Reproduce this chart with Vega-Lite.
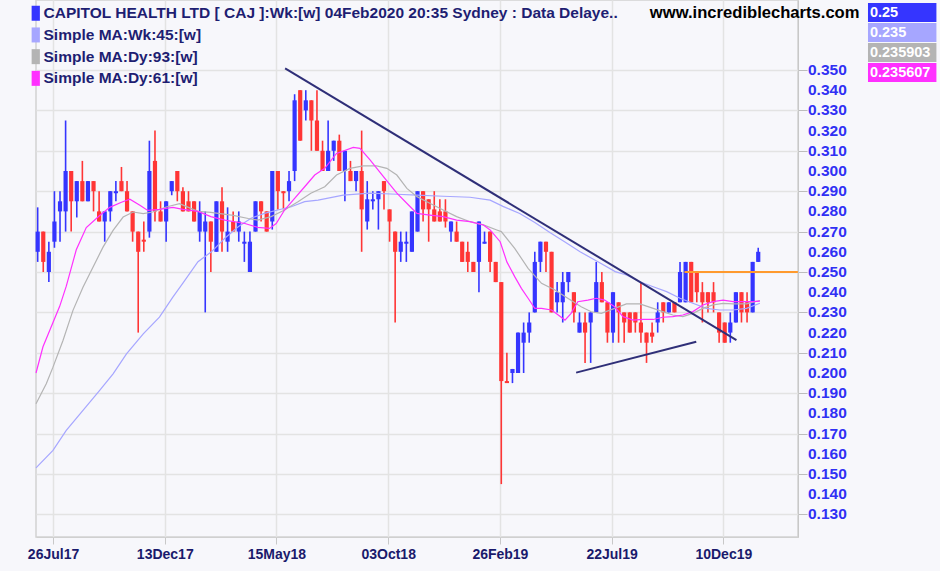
{
  "$schema": "https://vega.github.io/schema/vega-lite/v6.json",
  "width": 762,
  "height": 537,
  "autosize": {"type": "none"},
  "padding": {"left": 36, "top": 0, "right": 142, "bottom": 34},
  "background": "#f7f7fb",
  "config": {"view": {"stroke": "#d2d2d2", "strokeWidth": 1.5, "fill": "#f7f7fb"}, "font": "Liberation Sans"},
  "datasets": {
    "candles": [
      {"i":0,"o":0.260,"h":0.282,"l":0.255,"c":0.270},
      {"i":1,"o":0.270,"h":0.270,"l":0.250,"c":0.255},
      {"i":2,"o":0.250,"h":0.265,"l":0.245,"c":0.260},
      {"i":3,"o":0.265,"h":0.290,"l":0.262,"c":0.275},
      {"i":4,"o":0.280,"h":0.290,"l":0.265,"c":0.285},
      {"i":5,"o":0.280,"h":0.325,"l":0.270,"c":0.300},
      {"i":6,"o":0.300,"h":0.300,"l":0.270,"c":0.285},
      {"i":7,"o":0.285,"h":0.295,"l":0.277,"c":0.295},
      {"i":8,"o":0.295,"h":0.305,"l":0.285,"c":0.285},
      {"i":9,"o":0.285,"h":0.295,"l":0.285,"c":0.295},
      {"i":10,"o":0.295,"h":0.295,"l":0.280,"c":0.290},
      {"i":11,"o":0.280,"h":0.290,"l":0.275,"c":0.275},
      {"i":12,"o":0.275,"h":0.280,"l":0.265,"c":0.280},
      {"i":13,"o":0.280,"h":0.290,"l":0.275,"c":0.290},
      {"i":14,"o":0.289,"h":0.295,"l":0.285,"c":0.290},
      {"i":15,"o":0.295,"h":0.302,"l":0.290,"c":0.290},
      {"i":16,"o":0.290,"h":0.295,"l":0.280,"c":0.280},
      {"i":17,"o":0.280,"h":0.280,"l":0.265,"c":0.270},
      {"i":18,"o":0.270,"h":0.270,"l":0.220,"c":0.260},
      {"i":19,"o":0.266,"h":0.275,"l":0.260,"c":0.265},
      {"i":20,"o":0.270,"h":0.315,"l":0.267,"c":0.300},
      {"i":21,"o":0.305,"h":0.320,"l":0.275,"c":0.280},
      {"i":22,"o":0.280,"h":0.285,"l":0.275,"c":0.275},
      {"i":23,"o":0.275,"h":0.285,"l":0.265,"c":0.285},
      {"i":24,"o":0.290,"h":0.295,"l":0.288,"c":0.295},
      {"i":25,"o":0.300,"h":0.300,"l":0.285,"c":0.290},
      {"i":26,"o":0.290,"h":0.292,"l":0.280,"c":0.280},
      {"i":27,"o":0.285,"h":0.290,"l":0.280,"c":0.280},
      {"i":28,"o":0.285,"h":0.285,"l":0.275,"c":0.275},
      {"i":29,"o":0.270,"h":0.285,"l":0.265,"c":0.280},
      {"i":30,"o":0.270,"h":0.280,"l":0.230,"c":0.275},
      {"i":31,"o":0.275,"h":0.275,"l":0.250,"c":0.265},
      {"i":32,"o":0.260,"h":0.285,"l":0.260,"c":0.285},
      {"i":33,"o":0.285,"h":0.292,"l":0.260,"c":0.270},
      {"i":34,"o":0.265,"h":0.282,"l":0.260,"c":0.270},
      {"i":35,"o":0.275,"h":0.280,"l":0.270,"c":0.270},
      {"i":36,"o":0.270,"h":0.280,"l":0.265,"c":0.275},
      {"i":37,"o":0.264,"h":0.270,"l":0.255,"c":0.265},
      {"i":38,"o":0.250,"h":0.270,"l":0.250,"c":0.265},
      {"i":39,"o":0.270,"h":0.285,"l":0.270,"c":0.285},
      {"i":40,"o":0.285,"h":0.285,"l":0.275,"c":0.280},
      {"i":41,"o":0.280,"h":0.280,"l":0.270,"c":0.270},
      {"i":42,"o":0.275,"h":0.300,"l":0.271,"c":0.300},
      {"i":43,"o":0.300,"h":0.300,"l":0.281,"c":0.290},
      {"i":44,"o":0.290,"h":0.290,"l":0.281,"c":0.289},
      {"i":45,"o":0.290,"h":0.300,"l":0.285,"c":0.295},
      {"i":46,"o":0.300,"h":0.338,"l":0.295,"c":0.335},
      {"i":47,"o":0.340,"h":0.340,"l":0.315,"c":0.315},
      {"i":48,"o":0.330,"h":0.340,"l":0.325,"c":0.335},
      {"i":49,"o":0.335,"h":0.335,"l":0.310,"c":0.325},
      {"i":50,"o":0.325,"h":0.340,"l":0.310,"c":0.310},
      {"i":51,"o":0.310,"h":0.315,"l":0.300,"c":0.300},
      {"i":52,"o":0.300,"h":0.325,"l":0.300,"c":0.310},
      {"i":53,"o":0.310,"h":0.315,"l":0.305,"c":0.315},
      {"i":54,"o":0.315,"h":0.318,"l":0.300,"c":0.300},
      {"i":55,"o":0.300,"h":0.310,"l":0.285,"c":0.310},
      {"i":56,"o":0.300,"h":0.305,"l":0.295,"c":0.295},
      {"i":57,"o":0.295,"h":0.300,"l":0.290,"c":0.300},
      {"i":58,"o":0.300,"h":0.320,"l":0.260,"c":0.281},
      {"i":59,"o":0.275,"h":0.295,"l":0.271,"c":0.286},
      {"i":60,"o":0.285,"h":0.290,"l":0.281,"c":0.286},
      {"i":61,"o":0.286,"h":0.290,"l":0.271,"c":0.290},
      {"i":62,"o":0.295,"h":0.295,"l":0.281,"c":0.290},
      {"i":63,"o":0.281,"h":0.281,"l":0.265,"c":0.275},
      {"i":64,"o":0.270,"h":0.270,"l":0.225,"c":0.260},
      {"i":65,"o":0.260,"h":0.270,"l":0.255,"c":0.265},
      {"i":66,"o":0.264,"h":0.270,"l":0.255,"c":0.265},
      {"i":67,"o":0.260,"h":0.280,"l":0.260,"c":0.280},
      {"i":68,"o":0.270,"h":0.290,"l":0.270,"c":0.290},
      {"i":69,"o":0.290,"h":0.290,"l":0.275,"c":0.281},
      {"i":70,"o":0.286,"h":0.286,"l":0.265,"c":0.281},
      {"i":71,"o":0.281,"h":0.290,"l":0.275,"c":0.275},
      {"i":72,"o":0.280,"h":0.286,"l":0.275,"c":0.275},
      {"i":73,"o":0.280,"h":0.286,"l":0.272,"c":0.275},
      {"i":74,"o":0.270,"h":0.275,"l":0.265,"c":0.275},
      {"i":75,"o":0.270,"h":0.275,"l":0.265,"c":0.265},
      {"i":76,"o":0.265,"h":0.265,"l":0.255,"c":0.255},
      {"i":77,"o":0.260,"h":0.265,"l":0.250,"c":0.255},
      {"i":78,"o":0.255,"h":0.255,"l":0.250,"c":0.250},
      {"i":79,"o":0.255,"h":0.275,"l":0.240,"c":0.275},
      {"i":80,"o":0.264,"h":0.270,"l":0.264,"c":0.265},
      {"i":81,"o":0.270,"h":0.270,"l":0.250,"c":0.255},
      {"i":82,"o":0.255,"h":0.255,"l":0.245,"c":0.245},
      {"i":83,"o":0.245,"h":0.245,"l":0.145,"c":0.196},
      {"i":84,"o":0.196,"h":0.210,"l":0.195,"c":0.195},
      {"i":85,"o":0.200,"h":0.202,"l":0.195,"c":0.202},
      {"i":86,"o":0.200,"h":0.220,"l":0.200,"c":0.220},
      {"i":87,"o":0.215,"h":0.225,"l":0.200,"c":0.220},
      {"i":88,"o":0.220,"h":0.230,"l":0.215,"c":0.225},
      {"i":89,"o":0.230,"h":0.260,"l":0.230,"c":0.255},
      {"i":90,"o":0.255,"h":0.265,"l":0.250,"c":0.265},
      {"i":91,"o":0.265,"h":0.265,"l":0.250,"c":0.260},
      {"i":92,"o":0.260,"h":0.260,"l":0.230,"c":0.230},
      {"i":93,"o":0.235,"h":0.245,"l":0.230,"c":0.240},
      {"i":94,"o":0.235,"h":0.250,"l":0.225,"c":0.245},
      {"i":95,"o":0.245,"h":0.250,"l":0.240,"c":0.250},
      {"i":96,"o":0.240,"h":0.240,"l":0.225,"c":0.230},
      {"i":97,"o":0.220,"h":0.230,"l":0.220,"c":0.225},
      {"i":98,"o":0.225,"h":0.230,"l":0.205,"c":0.220},
      {"i":99,"o":0.225,"h":0.230,"l":0.205,"c":0.230},
      {"i":100,"o":0.230,"h":0.255,"l":0.230,"c":0.245},
      {"i":101,"o":0.245,"h":0.250,"l":0.235,"c":0.235},
      {"i":102,"o":0.235,"h":0.235,"l":0.215,"c":0.220},
      {"i":103,"o":0.220,"h":0.240,"l":0.215,"c":0.240},
      {"i":104,"o":0.235,"h":0.235,"l":0.215,"c":0.230},
      {"i":105,"o":0.230,"h":0.230,"l":0.215,"c":0.225},
      {"i":106,"o":0.230,"h":0.230,"l":0.220,"c":0.220},
      {"i":107,"o":0.230,"h":0.230,"l":0.220,"c":0.225},
      {"i":108,"o":0.225,"h":0.245,"l":0.215,"c":0.220},
      {"i":109,"o":0.220,"h":0.220,"l":0.205,"c":0.215},
      {"i":110,"o":0.220,"h":0.225,"l":0.215,"c":0.218},
      {"i":111,"o":0.225,"h":0.235,"l":0.220,"c":0.230},
      {"i":112,"o":0.235,"h":0.235,"l":0.225,"c":0.230},
      {"i":113,"o":0.230,"h":0.235,"l":0.230,"c":0.235},
      {"i":114,"o":0.235,"h":0.235,"l":0.230,"c":0.230},
      {"i":115,"o":0.235,"h":0.255,"l":0.235,"c":0.250},
      {"i":116,"o":0.235,"h":0.255,"l":0.235,"c":0.255},
      {"i":117,"o":0.255,"h":0.255,"l":0.235,"c":0.235},
      {"i":118,"o":0.250,"h":0.250,"l":0.235,"c":0.240},
      {"i":119,"o":0.240,"h":0.245,"l":0.225,"c":0.235},
      {"i":120,"o":0.240,"h":0.240,"l":0.230,"c":0.235},
      {"i":121,"o":0.240,"h":0.245,"l":0.230,"c":0.235},
      {"i":122,"o":0.230,"h":0.230,"l":0.215,"c":0.220},
      {"i":123,"o":0.225,"h":0.225,"l":0.215,"c":0.215},
      {"i":124,"o":0.220,"h":0.230,"l":0.215,"c":0.225},
      {"i":125,"o":0.225,"h":0.240,"l":0.225,"c":0.240},
      {"i":126,"o":0.240,"h":0.240,"l":0.225,"c":0.230},
      {"i":127,"o":0.235,"h":0.240,"l":0.225,"c":0.230},
      {"i":128,"o":0.230,"h":0.255,"l":0.230,"c":0.255},
      {"i":129,"o":0.255,"h":0.262,"l":0.255,"c":0.260}
    ],
    "ma": [
      {"s":"Simple MA:Wk:45:[w]","x":-0.3,"v":0.153},{"s":"Simple MA:Wk:45:[w]","x":2.74,"v":0.1617},{"s":"Simple MA:Wk:45:[w]","x":5.12,"v":0.1716},{"s":"Simple MA:Wk:45:[w]","x":8.11,"v":0.1815},{"s":"Simple MA:Wk:45:[w]","x":11.1,"v":0.1914},{"s":"Simple MA:Wk:45:[w]","x":13.5,"v":0.1996},{"s":"Simple MA:Wk:45:[w]","x":15.9,"v":0.2095},{"s":"Simple MA:Wk:45:[w]","x":18.9,"v":0.2194},{"s":"Simple MA:Wk:45:[w]","x":21.8,"v":0.2277},{"s":"Simple MA:Wk:45:[w]","x":24.2,"v":0.2376},{"s":"Simple MA:Wk:45:[w]","x":26.0,"v":0.2445},{"s":"Simple MA:Wk:45:[w]","x":28.7,"v":0.2551},{"s":"Simple MA:Wk:45:[w]","x":31.1,"v":0.26},{"s":"Simple MA:Wk:45:[w]","x":33.5,"v":0.2667},{"s":"Simple MA:Wk:45:[w]","x":35.9,"v":0.2724},{"s":"Simple MA:Wk:45:[w]","x":38.2,"v":0.2766},{"s":"Simple MA:Wk:45:[w]","x":40.6,"v":0.279},{"s":"Simple MA:Wk:45:[w]","x":43.0,"v":0.2807},{"s":"Simple MA:Wk:45:[w]","x":45.4,"v":0.2823},{"s":"Simple MA:Wk:45:[w]","x":47.8,"v":0.2848},{"s":"Simple MA:Wk:45:[w]","x":50.2,"v":0.2856},{"s":"Simple MA:Wk:45:[w]","x":54.7,"v":0.2881},{"s":"Simple MA:Wk:45:[w]","x":59.5,"v":0.289},{"s":"Simple MA:Wk:45:[w]","x":64.3,"v":0.2885},{"s":"Simple MA:Wk:45:[w]","x":67.9,"v":0.2881},{"s":"Simple MA:Wk:45:[w]","x":72.6,"v":0.2875},{"s":"Simple MA:Wk:45:[w]","x":77.4,"v":0.287},{"s":"Simple MA:Wk:45:[w]","x":81.0,"v":0.2856},{"s":"Simple MA:Wk:45:[w]","x":83.3,"v":0.2825},{"s":"Simple MA:Wk:45:[w]","x":86.3,"v":0.279},{"s":"Simple MA:Wk:45:[w]","x":89.0,"v":0.2745},{"s":"Simple MA:Wk:45:[w]","x":91.7,"v":0.2695},{"s":"Simple MA:Wk:45:[w]","x":94.4,"v":0.2648},{"s":"Simple MA:Wk:45:[w]","x":97.1,"v":0.26},{"s":"Simple MA:Wk:45:[w]","x":100.7,"v":0.2545},{"s":"Simple MA:Wk:45:[w]","x":103.4,"v":0.2502},{"s":"Simple MA:Wk:45:[w]","x":105.4,"v":0.2485},{"s":"Simple MA:Wk:45:[w]","x":107.8,"v":0.2452},{"s":"Simple MA:Wk:45:[w]","x":110.2,"v":0.2427},{"s":"Simple MA:Wk:45:[w]","x":112.6,"v":0.2403},{"s":"Simple MA:Wk:45:[w]","x":115.0,"v":0.237},{"s":"Simple MA:Wk:45:[w]","x":117.3,"v":0.2345},{"s":"Simple MA:Wk:45:[w]","x":119.7,"v":0.232},{"s":"Simple MA:Wk:45:[w]","x":122.1,"v":0.2312},{"s":"Simple MA:Wk:45:[w]","x":124.5,"v":0.2312},{"s":"Simple MA:Wk:45:[w]","x":126.9,"v":0.232},{"s":"Simple MA:Wk:45:[w]","x":129.3,"v":0.2345},
      {"s":"Simple MA:Dy:93:[w]","x":-0.3,"v":0.1848},{"s":"Simple MA:Dy:93:[w]","x":1.54,"v":0.1947},{"s":"Simple MA:Dy:93:[w]","x":2.74,"v":0.2029},{"s":"Simple MA:Dy:93:[w]","x":4.53,"v":0.2161},{"s":"Simple MA:Dy:93:[w]","x":6.32,"v":0.231},{"s":"Simple MA:Dy:93:[w]","x":8.11,"v":0.2425},{"s":"Simple MA:Dy:93:[w]","x":9.9,"v":0.2524},{"s":"Simple MA:Dy:93:[w]","x":11.7,"v":0.2623},{"s":"Simple MA:Dy:93:[w]","x":13.5,"v":0.2706},{"s":"Simple MA:Dy:93:[w]","x":15.3,"v":0.2772},{"s":"Simple MA:Dy:93:[w]","x":17.1,"v":0.2797},{"s":"Simple MA:Dy:93:[w]","x":18.9,"v":0.2789},{"s":"Simple MA:Dy:93:[w]","x":20.6,"v":0.2797},{"s":"Simple MA:Dy:93:[w]","x":23.0,"v":0.2822},{"s":"Simple MA:Dy:93:[w]","x":25.4,"v":0.2838},{"s":"Simple MA:Dy:93:[w]","x":28.7,"v":0.28},{"s":"Simple MA:Dy:93:[w]","x":31.0,"v":0.2795},{"s":"Simple MA:Dy:93:[w]","x":35.0,"v":0.278},{"s":"Simple MA:Dy:93:[w]","x":37.7,"v":0.2765},{"s":"Simple MA:Dy:93:[w]","x":39.4,"v":0.2757},{"s":"Simple MA:Dy:93:[w]","x":41.8,"v":0.2774},{"s":"Simple MA:Dy:93:[w]","x":44.2,"v":0.2807},{"s":"Simple MA:Dy:93:[w]","x":46.6,"v":0.2848},{"s":"Simple MA:Dy:93:[w]","x":48.9,"v":0.289},{"s":"Simple MA:Dy:93:[w]","x":51.4,"v":0.2922},{"s":"Simple MA:Dy:93:[w]","x":53.5,"v":0.298},{"s":"Simple MA:Dy:93:[w]","x":55.9,"v":0.3013},{"s":"Simple MA:Dy:93:[w]","x":58.3,"v":0.3025},{"s":"Simple MA:Dy:93:[w]","x":60.7,"v":0.3025},{"s":"Simple MA:Dy:93:[w]","x":62.5,"v":0.3013},{"s":"Simple MA:Dy:93:[w]","x":64.3,"v":0.298},{"s":"Simple MA:Dy:93:[w]","x":66.1,"v":0.2914},{"s":"Simple MA:Dy:93:[w]","x":67.9,"v":0.2873},{"s":"Simple MA:Dy:93:[w]","x":70.2,"v":0.284},{"s":"Simple MA:Dy:93:[w]","x":72.6,"v":0.2807},{"s":"Simple MA:Dy:93:[w]","x":75.0,"v":0.2774},{"s":"Simple MA:Dy:93:[w]","x":77.4,"v":0.2749},{"s":"Simple MA:Dy:93:[w]","x":79.8,"v":0.2733},{"s":"Simple MA:Dy:93:[w]","x":82.2,"v":0.2708},{"s":"Simple MA:Dy:93:[w]","x":83.0,"v":0.27},{"s":"Simple MA:Dy:93:[w]","x":85.4,"v":0.2617},{"s":"Simple MA:Dy:93:[w]","x":87.8,"v":0.2518},{"s":"Simple MA:Dy:93:[w]","x":90.2,"v":0.2444},{"s":"Simple MA:Dy:93:[w]","x":92.6,"v":0.2411},{"s":"Simple MA:Dy:93:[w]","x":94.9,"v":0.237},{"s":"Simple MA:Dy:93:[w]","x":97.3,"v":0.2328},{"s":"Simple MA:Dy:93:[w]","x":99.1,"v":0.2303},{"s":"Simple MA:Dy:93:[w]","x":100.9,"v":0.2295},{"s":"Simple MA:Dy:93:[w]","x":103.3,"v":0.232},{"s":"Simple MA:Dy:93:[w]","x":105.4,"v":0.2342},{"s":"Simple MA:Dy:93:[w]","x":107.8,"v":0.2342},{"s":"Simple MA:Dy:93:[w]","x":110.2,"v":0.232},{"s":"Simple MA:Dy:93:[w]","x":111.9,"v":0.2304},{"s":"Simple MA:Dy:93:[w]","x":113.7,"v":0.2287},{"s":"Simple MA:Dy:93:[w]","x":115.5,"v":0.2279},{"s":"Simple MA:Dy:93:[w]","x":117.3,"v":0.2295},{"s":"Simple MA:Dy:93:[w]","x":119.1,"v":0.232},{"s":"Simple MA:Dy:93:[w]","x":120.9,"v":0.2337},{"s":"Simple MA:Dy:93:[w]","x":122.7,"v":0.2345},{"s":"Simple MA:Dy:93:[w]","x":124.5,"v":0.2342},{"s":"Simple MA:Dy:93:[w]","x":126.9,"v":0.2342},{"s":"Simple MA:Dy:93:[w]","x":129.3,"v":0.2359},
      {"s":"Simple MA:Dy:61:[w]","x":-0.3,"v":0.2},{"s":"Simple MA:Dy:61:[w]","x":0.95,"v":0.213},{"s":"Simple MA:Dy:61:[w]","x":2.15,"v":0.221},{"s":"Simple MA:Dy:61:[w]","x":3.94,"v":0.233},{"s":"Simple MA:Dy:61:[w]","x":5.12,"v":0.243},{"s":"Simple MA:Dy:61:[w]","x":6.91,"v":0.261},{"s":"Simple MA:Dy:61:[w]","x":8.7,"v":0.272},{"s":"Simple MA:Dy:61:[w]","x":11.1,"v":0.278},{"s":"Simple MA:Dy:61:[w]","x":12.9,"v":0.282},{"s":"Simple MA:Dy:61:[w]","x":15.0,"v":0.2845},{"s":"Simple MA:Dy:61:[w]","x":16.5,"v":0.286},{"s":"Simple MA:Dy:61:[w]","x":18.3,"v":0.283},{"s":"Simple MA:Dy:61:[w]","x":19.7,"v":0.2805},{"s":"Simple MA:Dy:61:[w]","x":21.8,"v":0.281},{"s":"Simple MA:Dy:61:[w]","x":24.2,"v":0.282},{"s":"Simple MA:Dy:61:[w]","x":26.0,"v":0.281},{"s":"Simple MA:Dy:61:[w]","x":28.7,"v":0.28},{"s":"Simple MA:Dy:61:[w]","x":31.0,"v":0.2774},{"s":"Simple MA:Dy:61:[w]","x":33.5,"v":0.2757},{"s":"Simple MA:Dy:61:[w]","x":37.1,"v":0.274},{"s":"Simple MA:Dy:61:[w]","x":39.4,"v":0.2721},{"s":"Simple MA:Dy:61:[w]","x":41.5,"v":0.2716},{"s":"Simple MA:Dy:61:[w]","x":42.7,"v":0.274},{"s":"Simple MA:Dy:61:[w]","x":44.2,"v":0.2807},{"s":"Simple MA:Dy:61:[w]","x":46.0,"v":0.2865},{"s":"Simple MA:Dy:61:[w]","x":47.8,"v":0.2922},{"s":"Simple MA:Dy:61:[w]","x":49.6,"v":0.298},{"s":"Simple MA:Dy:61:[w]","x":51.4,"v":0.3013},{"s":"Simple MA:Dy:61:[w]","x":53.5,"v":0.3087},{"s":"Simple MA:Dy:61:[w]","x":56.5,"v":0.3117},{"s":"Simple MA:Dy:61:[w]","x":57.7,"v":0.3112},{"s":"Simple MA:Dy:61:[w]","x":59.5,"v":0.3055},{"s":"Simple MA:Dy:61:[w]","x":61.9,"v":0.2972},{"s":"Simple MA:Dy:61:[w]","x":64.3,"v":0.289},{"s":"Simple MA:Dy:61:[w]","x":66.7,"v":0.2823},{"s":"Simple MA:Dy:61:[w]","x":67.9,"v":0.279},{"s":"Simple MA:Dy:61:[w]","x":70.2,"v":0.2782},{"s":"Simple MA:Dy:61:[w]","x":72.6,"v":0.2774},{"s":"Simple MA:Dy:61:[w]","x":75.0,"v":0.2757},{"s":"Simple MA:Dy:61:[w]","x":77.4,"v":0.2749},{"s":"Simple MA:Dy:61:[w]","x":79.8,"v":0.2733},{"s":"Simple MA:Dy:61:[w]","x":81.0,"v":0.2708},{"s":"Simple MA:Dy:61:[w]","x":82.8,"v":0.265},{"s":"Simple MA:Dy:61:[w]","x":84.0,"v":0.255},{"s":"Simple MA:Dy:61:[w]","x":85.4,"v":0.2477},{"s":"Simple MA:Dy:61:[w]","x":86.6,"v":0.2419},{"s":"Simple MA:Dy:61:[w]","x":87.8,"v":0.237},{"s":"Simple MA:Dy:61:[w]","x":89.0,"v":0.232},{"s":"Simple MA:Dy:61:[w]","x":90.2,"v":0.232},{"s":"Simple MA:Dy:61:[w]","x":92.0,"v":0.2312},{"s":"Simple MA:Dy:61:[w]","x":93.2,"v":0.2287},{"s":"Simple MA:Dy:61:[w]","x":94.4,"v":0.2262},{"s":"Simple MA:Dy:61:[w]","x":95.5,"v":0.2295},{"s":"Simple MA:Dy:61:[w]","x":96.7,"v":0.2353},{"s":"Simple MA:Dy:61:[w]","x":98.5,"v":0.2361},{"s":"Simple MA:Dy:61:[w]","x":100.0,"v":0.237},{"s":"Simple MA:Dy:61:[w]","x":101.5,"v":0.2361},{"s":"Simple MA:Dy:61:[w]","x":103.3,"v":0.2328},{"s":"Simple MA:Dy:61:[w]","x":104.8,"v":0.2279},{"s":"Simple MA:Dy:61:[w]","x":106.6,"v":0.2262},{"s":"Simple MA:Dy:61:[w]","x":108.4,"v":0.2265},{"s":"Simple MA:Dy:61:[w]","x":110.2,"v":0.2265},{"s":"Simple MA:Dy:61:[w]","x":111.9,"v":0.2276},{"s":"Simple MA:Dy:61:[w]","x":113.7,"v":0.2279},{"s":"Simple MA:Dy:61:[w]","x":115.5,"v":0.2287},{"s":"Simple MA:Dy:61:[w]","x":117.3,"v":0.2304},{"s":"Simple MA:Dy:61:[w]","x":119.1,"v":0.2337},{"s":"Simple MA:Dy:61:[w]","x":120.9,"v":0.2353},{"s":"Simple MA:Dy:61:[w]","x":122.7,"v":0.2361},{"s":"Simple MA:Dy:61:[w]","x":124.5,"v":0.2353},{"s":"Simple MA:Dy:61:[w]","x":126.3,"v":0.2353},{"s":"Simple MA:Dy:61:[w]","x":128.0,"v":0.2353},{"s":"Simple MA:Dy:61:[w]","x":129.3,"v":0.2356}
    ],
    "trend": [
      {"k":"down","x":44.3,"v":0.3508},{"k":"down","x":125.1,"v":0.2163},
      {"k":"up","x":96.4,"v":0.2002},{"k":"up","x":117.9,"v":0.2155}
    ],
    "level": [
      {"x":115.8,"v":0.25},{"x":136.1,"v":0.25}
    ],
    "yticks": [
      {"v":0.13},{"v":0.14},{"v":0.15},{"v":0.16},{"v":0.17},{"v":0.18},{"v":0.19},{"v":0.20},{"v":0.21},{"v":0.22},{"v":0.23},{"v":0.24},
      {"v":0.25},{"v":0.26},{"v":0.27},{"v":0.28},{"v":0.29},{"v":0.30},{"v":0.31},{"v":0.32},{"v":0.33},{"v":0.34},{"v":0.35}
    ],
    "boxes": [
      {"t":"0.25","s":"CAPITOL HEALTH LTD [ CAJ ]:Wk:[w]  04Feb2020 20:35 Sydney : Data Delaye..","top":0.38317,"bot":0.37376,"mid":0.37846},
      {"t":"0.235","s":"Simple MA:Wk:45:[w]","top":0.37327,"bot":0.36386,"mid":0.36856},
      {"t":"0.235903","s":"Simple MA:Dy:93:[w]","top":0.36337,"bot":0.35396,"mid":0.35866},
      {"t":"0.235607","s":"Simple MA:Dy:61:[w]","top":0.35347,"bot":0.34406,"mid":0.34876}
    ]
  },
  "layer": [
    {
      "data": {"name": "candles"},
      "mark": {"type": "rule", "strokeWidth": 1.6},
      "encoding": {
        "x": {"field": "i", "type": "quantitative", "title": null,
              "scale": {"domain": [-0.3, 136.12], "nice": false, "zero": false},
              "axis": {"values": [2.75, 22.75, 42.75, 62.75, 82.75, 102.75, 122.75],
                       "labelExpr": "['26Jul17','13Dec17','15May18','03Oct18','26Feb19','22Jul19','10Dec19'][round((datum.value - 2.75) / 20)]",
                       "labelFont": "Liberation Sans", "labelFontSize": 14, "labelFontWeight": "bold", "labelColor": "#1a1a6c",
                       "tickColor": "#c8c8c8", "tickSize": 7, "labelPadding": 3, "domainColor": "#d0d0d0",
                       "gridColor": "#e3e3e3", "gridWidth": 1.5, "labelFlush": false, "labelOverlap": false, "title": null}},
        "y": {"field": "l", "type": "quantitative", "title": null,
              "scale": {"domain": [0.118812, 0.384653], "nice": false, "zero": false},
              "axis": {"orient": "right",
                       "values": [0.13,0.14,0.15,0.16,0.17,0.18,0.19,0.2,0.21,0.22,0.23,0.24,0.25,0.26,0.27,0.28,0.29,0.3,0.31,0.32,0.33,0.34,0.35],
                       "labels": false, "tickColor": "#bdbdbd", "tickSize": 9,
                       "domainColor": "#c8c8c8", "gridColor": "#e3e3e3", "gridWidth": 1.5, "title": null}},
        "y2": {"field": "h"},
        "color": {"condition": {"test": "datum.c >= datum.o", "value": "#3535ff"}, "value": "#ff3535"}
      }
    },
    {
      "data": {"name": "candles"},
      "mark": {"type": "rule", "strokeWidth": 4.2},
      "encoding": {
        "x": {"field": "i", "type": "quantitative", "title": null, "scale": {"domain": [-0.3, 136.12], "nice": false, "zero": false}},
        "y": {"field": "o", "type": "quantitative", "title": null, "scale": {"domain": [0.118812, 0.384653], "nice": false, "zero": false}},
        "y2": {"field": "c"},
        "color": {"condition": {"test": "datum.c >= datum.o", "value": "#3535ff"}, "value": "#ff3535"}
      }
    },
    {
      "data": {"name": "ma"},
      "mark": {"type": "line", "strokeWidth": 1.2},
      "encoding": {
        "x": {"field": "x", "type": "quantitative", "title": null, "scale": {"domain": [-0.3, 136.12], "nice": false, "zero": false}},
        "y": {"field": "v", "type": "quantitative", "title": null, "scale": {"domain": [0.118812, 0.384653], "nice": false, "zero": false}},
        "color": {"field": "s", "type": "nominal",
                  "scale": {"domain": ["CAPITOL HEALTH LTD [ CAJ ]:Wk:[w]  04Feb2020 20:35 Sydney : Data Delaye..", "Simple MA:Wk:45:[w]", "Simple MA:Dy:93:[w]", "Simple MA:Dy:61:[w]"],
                            "range": ["#3535ff", "#a6a6ff", "#b4b4b4", "#ff30ff"]},
                  "legend": {"orient": "none", "legendX": -8, "legendY": 5.5, "title": null, "padding": 0, "rowPadding": 4.7,
                             "symbolType": "M-0.55,-1L0.55,-1L0.55,1L-0.55,1Z", "symbolSize": 225, "symbolStrokeWidth": 0,
                             "labelFont": "Liberation Sans", "labelFontSize": 15.5, "labelFontWeight": "bold", "labelColor": "#1e1e72",
                             "labelLimit": 800, "labelOffset": 0,
                             "encode": {"symbols": {"update": {"fill": {"scale": "color", "field": "value"}, "fillOpacity": {"value": 1}, "strokeWidth": {"value": 0}}}}}}
      }
    },
    {
      "data": {"name": "trend"},
      "mark": {"type": "line", "strokeWidth": 2, "color": "#2f2f78"},
      "encoding": {
        "x": {"field": "x", "type": "quantitative", "title": null, "scale": {"domain": [-0.3, 136.12], "nice": false, "zero": false}},
        "y": {"field": "v", "type": "quantitative", "title": null, "scale": {"domain": [0.118812, 0.384653], "nice": false, "zero": false}},
        "detail": {"field": "k"}
      }
    },
    {
      "data": {"name": "level"},
      "mark": {"type": "line", "strokeWidth": 2, "color": "#ff9a2e"},
      "encoding": {
        "x": {"field": "x", "type": "quantitative", "title": null, "scale": {"domain": [-0.3, 136.12], "nice": false, "zero": false}},
        "y": {"field": "v", "type": "quantitative", "title": null, "scale": {"domain": [0.118812, 0.384653], "nice": false, "zero": false}}
      }
    },
    {
      "data": {"name": "yticks"},
      "mark": {"type": "text", "align": "left", "baseline": "middle", "dx": 10, "font": "Liberation Sans", "fontSize": 15.5, "fontWeight": "bold", "color": "#3030f4"},
      "encoding": {
        "text": {"field": "v", "type": "quantitative", "format": ".3f"},
        "x": {"datum": 136.12, "type": "quantitative"},
        "y": {"field": "v", "type": "quantitative", "title": null, "scale": {"domain": [0.118812, 0.384653], "nice": false, "zero": false}}
      }
    },
    {
      "data": {"values": [{"t": "www.incrediblecharts.com"}]},
      "mark": {"type": "text", "align": "left", "baseline": "middle", "font": "Liberation Sans", "fontSize": 16.6, "fontWeight": "bold", "color": "#000000"},
      "encoding": {"text": {"field": "t"}, "x": {"datum": 109.6, "type": "quantitative"}, "y": {"datum": 0.3782, "type": "quantitative"}}
    },
    {
      "data": {"name": "boxes"},
      "mark": {"type": "rect"},
      "encoding": {
        "x": {"datum": 148.65, "type": "quantitative"}, "x2": {"datum": 160.9},
        "y": {"field": "top", "type": "quantitative", "title": null, "scale": {"domain": [0.118812, 0.384653], "nice": false, "zero": false}},
        "y2": {"field": "bot"},
        "color": {"field": "s", "type": "nominal", "legend": null,
                  "scale": {"domain": ["CAPITOL HEALTH LTD [ CAJ ]:Wk:[w]  04Feb2020 20:35 Sydney : Data Delaye..", "Simple MA:Wk:45:[w]", "Simple MA:Dy:93:[w]", "Simple MA:Dy:61:[w]"],
                            "range": ["#3535ff", "#a6a6ff", "#b4b4b4", "#ff30ff"]}}
      }
    },
    {
      "data": {"name": "boxes"},
      "mark": {"type": "text", "align": "left", "baseline": "middle", "font": "Liberation Sans", "fontSize": 14.5, "fontWeight": "bold", "color": "#ffffff"},
      "encoding": {
        "text": {"field": "t"},
        "x": {"datum": 149.0, "type": "quantitative"},
        "y": {"field": "mid", "type": "quantitative", "title": null, "scale": {"domain": [0.118812, 0.384653], "nice": false, "zero": false}}
      }
    }
  ]
}
